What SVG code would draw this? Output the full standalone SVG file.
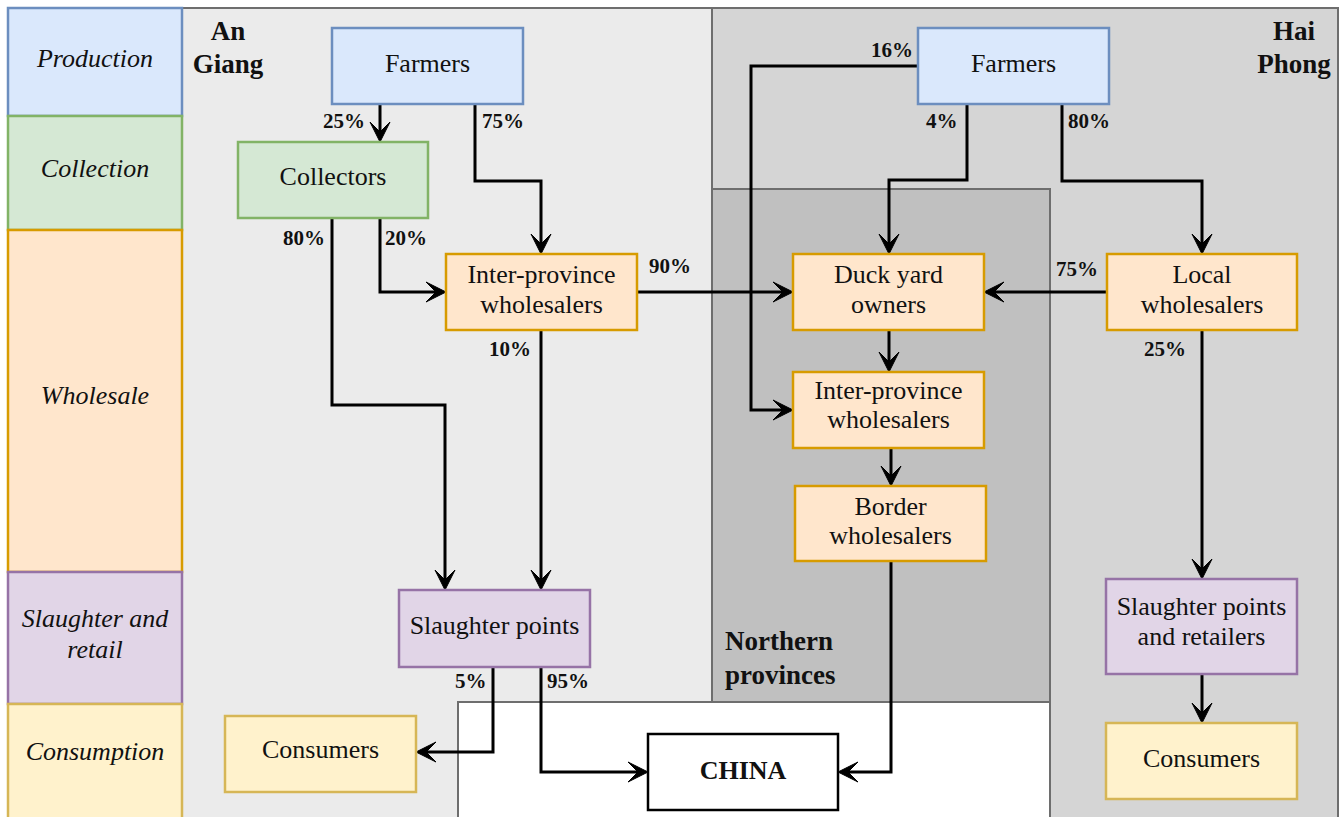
<svg xmlns="http://www.w3.org/2000/svg" width="1341" height="817" viewBox="0 0 1341 817">
<style>
.t{font-family:"Liberation Serif","Times New Roman",serif;font-size:26px;fill:#111;text-anchor:middle}
.lab{font-family:"Liberation Serif","Times New Roman",serif;font-size:26px;font-style:italic;fill:#111;text-anchor:middle}
.reg{font-family:"Liberation Serif","Times New Roman",serif;font-size:27px;font-weight:bold;fill:#111}
.p{font-family:"Liberation Serif","Times New Roman",serif;font-size:21px;font-weight:bold;fill:#111}
.prod{fill:#DAE8FC;stroke:#6C8EBF;stroke-width:2.5}
.coll{fill:#D5E8D4;stroke:#82B366;stroke-width:2.5}
.whol{fill:#FFE6CC;stroke:#D79B00;stroke-width:2.5}
.slau{fill:#E1D5E7;stroke:#9673A6;stroke-width:2.5}
.cons{fill:#FFF2CC;stroke:#D6B656;stroke-width:2.5}
.area{stroke:#6E6E6E;stroke-width:2}
.c path{fill:none;stroke:#000;stroke-width:3;marker-end:url(#arr)}
</style>
<defs>
<marker id="arr" markerUnits="userSpaceOnUse" markerWidth="30" markerHeight="30" refX="-8" refY="0" orient="auto" overflow="visible">
<path d="M0,0 L-20,-10 L-10,0 L-20,10 Z" fill="#000" stroke="#000" stroke-width="1" stroke-linejoin="miter"/>
</marker>
</defs>
<rect width="1341" height="817" fill="#fff"/>
<!-- regions -->
<g id="region-angiang">
<rect class="area" x="182" y="8" width="530" height="830" fill="#EBEBEB"/>
<text class="reg" x="228" y="40" text-anchor="middle">An</text>
<text class="reg" x="228" y="73" text-anchor="middle">Giang</text>
</g>
<g id="region-haiphong">
<rect class="area" x="712" y="8" width="626" height="830" fill="#D5D5D5"/>
<text class="reg" x="1294" y="40" text-anchor="middle">Hai</text>
<text class="reg" x="1294" y="73" text-anchor="middle">Phong</text>
</g>
<g id="region-northern">
<rect class="area" x="712" y="189" width="338" height="513" fill="#C0C0C0"/>
<text class="reg" x="725" y="650">Northern</text>
<text class="reg" x="725" y="684">provinces</text>
</g>
<g id="region-china">
<rect class="area" x="458" y="702" width="592" height="140" fill="#FFFFFF"/>
</g>
<!-- stage column -->
<g id="stage-production"><rect class="prod" x="8" y="8" width="174" height="108"/><text class="lab" x="95" y="67">Production</text></g>
<g id="stage-collection"><rect class="coll" x="8" y="116" width="174" height="114"/><text class="lab" x="95" y="177">Collection</text></g>
<g id="stage-wholesale"><rect class="whol" x="8" y="230" width="174" height="342"/><text class="lab" x="95" y="404">Wholesale</text></g>
<g id="stage-slaughter"><rect class="slau" x="8" y="572" width="174" height="132"/><text class="lab" x="95" y="627">Slaughter and</text><text class="lab" x="95" y="658">retail</text></g>
<g id="stage-consumption"><rect class="cons" x="8" y="704" width="174" height="130"/><text class="lab" x="95" y="760">Consumption</text></g>
<!-- connectors -->
<g id="connectors" class="c">
<path d="M380,104 V134"/>
<path d="M475,104 V181 H541 V246"/>
<path d="M332,218 V405 H445 V582"/>
<path d="M380,218 V292 H438"/>
<path d="M541,330 V582"/>
<path d="M637,292 H785"/>
<path d="M918,66 H751 V410 H785"/>
<path d="M967,104 V180 H889 V246"/>
<path d="M1062,104 V181 H1202 V246"/>
<path d="M1107,292 H992"/>
<path d="M1202,330 V571"/>
<path d="M889,330 V364"/>
<path d="M891,448 V478"/>
<path d="M891,561 V772 H846"/>
<path d="M493,667 V752 H424"/>
<path d="M541,667 V772 H640"/>
<path d="M1202,674 V715"/>
</g>
<g id="labels">
<text class="p" x="323" y="128">25%</text>
<text class="p" x="482" y="128">75%</text>
<text class="p" x="283" y="245">80%</text>
<text class="p" x="385" y="245">20%</text>
<text class="p" x="649" y="273">90%</text>
<text class="p" x="489" y="356">10%</text>
<text class="p" x="871" y="57">16%</text>
<text class="p" x="926" y="128">4%</text>
<text class="p" x="1068" y="128">80%</text>
<text class="p" x="1056" y="276">75%</text>
<text class="p" x="1144" y="356">25%</text>
<text class="p" x="455" y="688">5%</text>
<text class="p" x="547" y="688">95%</text>
</g>
<!-- nodes -->
<g id="ag-farmers"><rect class="prod" x="332" y="28" width="191" height="76"/><text class="t" x="427.5" y="72">Farmers</text></g>
<g id="ag-collectors"><rect class="coll" x="238" y="142" width="190" height="76"/><text class="t" x="333" y="185">Collectors</text></g>
<g id="ag-interprovince"><rect class="whol" x="446" y="254" width="191" height="76"/><text class="t" x="541.5" y="283">Inter-province</text><text class="t" x="541.5" y="313">wholesalers</text></g>
<g id="ag-slaughter"><rect class="slau" x="399" y="590" width="191" height="77"/><text class="t" x="494.5" y="634">Slaughter points</text></g>
<g id="ag-consumers"><rect class="cons" x="225" y="716" width="191" height="76"/><text class="t" x="320.5" y="758">Consumers</text></g>
<g id="china"><rect x="648" y="734" width="190" height="76" fill="#fff" stroke="#000" stroke-width="2.5"/><text class="t" x="743" y="779" font-weight="bold" font-size="25">CHINA</text></g>
<g id="np-duckyard"><rect class="whol" x="793" y="254" width="191" height="76"/><text class="t" x="888.5" y="283">Duck yard</text><text class="t" x="888.5" y="313">owners</text></g>
<g id="np-interprovince"><rect class="whol" x="793" y="372" width="191" height="76"/><text class="t" x="888.5" y="399">Inter-province</text><text class="t" x="888.5" y="428">wholesalers</text></g>
<g id="np-border"><rect class="whol" x="795" y="486" width="191" height="75"/><text class="t" x="890.5" y="515">Border</text><text class="t" x="890.5" y="544">wholesalers</text></g>
<g id="hp-farmers"><rect class="prod" x="918" y="28" width="191" height="76"/><text class="t" x="1013.5" y="72">Farmers</text></g>
<g id="hp-local"><rect class="whol" x="1107" y="254" width="190" height="76"/><text class="t" x="1202" y="283">Local</text><text class="t" x="1202" y="313">wholesalers</text></g>
<g id="hp-slaughter"><rect class="slau" x="1106" y="579" width="191" height="95"/><text class="t" x="1201.5" y="615">Slaughter points</text><text class="t" x="1201.5" y="645">and retailers</text></g>
<g id="hp-consumers"><rect class="cons" x="1106" y="723" width="191" height="76"/><text class="t" x="1201.5" y="767">Consumers</text></g>
</svg>
